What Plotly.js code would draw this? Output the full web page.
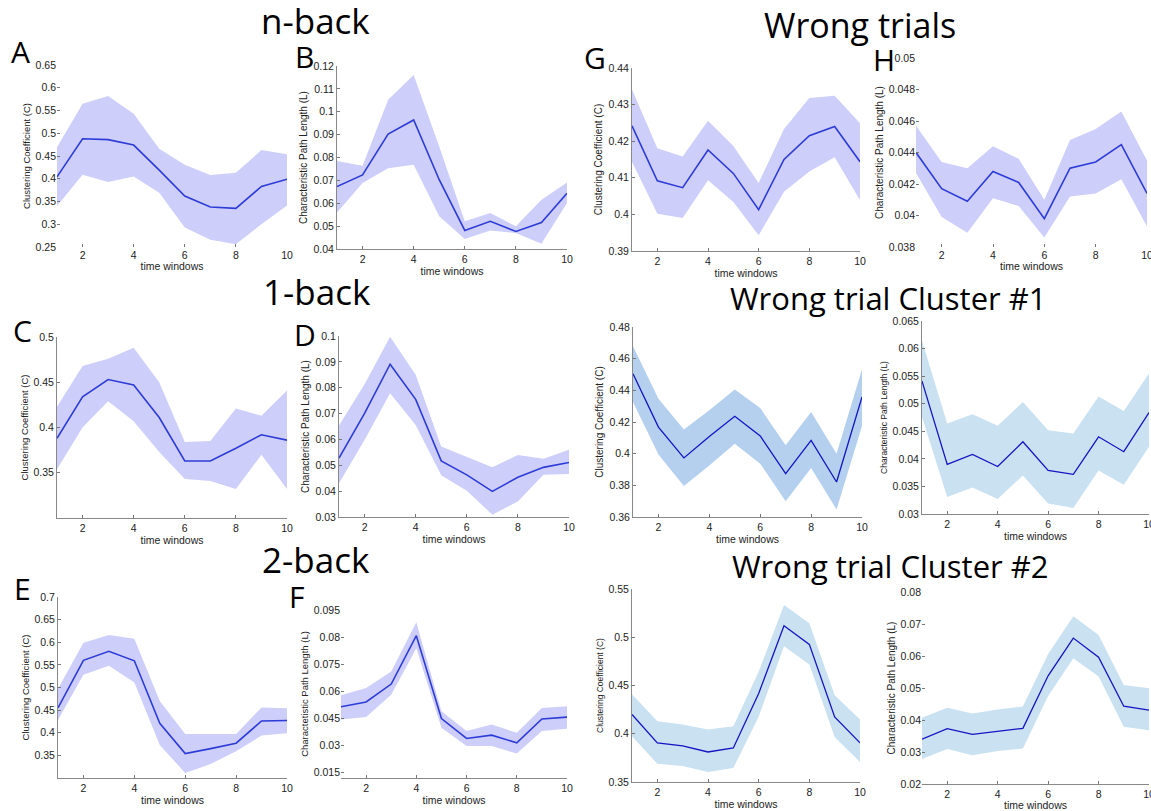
<!DOCTYPE html>
<html><head><meta charset="utf-8">
<script src="https://cdn.plot.ly/plotly-3.0.1.min.js"></script>
<style>html,body{margin:0;padding:0;background:#fff}#chart{width:1151px;height:811px}</style>
</head><body><div id="chart"></div>
<script>
// time windows
const timeWindows = [1,2,3,4,5,6,7,8,9,10];
const xTicks = [2,4,6,8,10];

// A: n-back clustering coefficient
const A_mean  = [0.404,0.488,0.486,0.474,0.419,0.362,0.338,0.335,0.383,0.399];
const A_upper = [0.469,0.565,0.582,0.543,0.466,0.431,0.408,0.413,0.463,0.454];
const A_lower = [0.340,0.409,0.393,0.405,0.369,0.293,0.266,0.256,0.300,0.341];
// B: n-back characteristic path length
const B_mean  = [0.0673,0.0724,0.0902,0.0964,0.0703,0.0481,0.0521,0.0477,0.0516,0.0644];
const B_upper = [0.0785,0.0764,0.1052,0.1161,0.0848,0.0521,0.0557,0.0499,0.0615,0.0691];
const B_lower = [0.0560,0.0688,0.0753,0.0768,0.0543,0.0444,0.0481,0.0470,0.0423,0.0601];
// C: 1-back clustering coefficient
const C_mean  = [0.388,0.434,0.453,0.447,0.411,0.363,0.363,0.377,0.392,0.386];
const C_upper = [0.423,0.468,0.476,0.488,0.450,0.384,0.385,0.421,0.413,0.441];
const C_lower = [0.354,0.400,0.429,0.407,0.373,0.343,0.341,0.332,0.370,0.332];
// D: 1-back characteristic path length
const D_mean  = [0.0528,0.0701,0.0891,0.0755,0.0517,0.0463,0.0399,0.0454,0.0492,0.0511];
const D_upper = [0.0654,0.0813,0.0997,0.0850,0.0573,0.0534,0.0492,0.0540,0.0525,0.0560];
const D_lower = [0.0431,0.0598,0.0779,0.0656,0.0461,0.0402,0.0309,0.0360,0.0463,0.0466];
// E: 2-back clustering coefficient
const E_mean  = [0.455,0.560,0.580,0.559,0.421,0.354,0.365,0.377,0.426,0.427];
const E_upper = [0.497,0.599,0.616,0.608,0.470,0.397,0.397,0.397,0.456,0.454];
const E_lower = [0.428,0.528,0.548,0.511,0.373,0.311,0.331,0.359,0.394,0.399];
// F: 2-back characteristic path length
const F_mean  = [0.0514,0.0541,0.0640,0.0908,0.0449,0.0339,0.0357,0.0315,0.0447,0.0457];
const F_upper = [0.0578,0.0618,0.0710,0.0982,0.0490,0.0380,0.0416,0.0370,0.0508,0.0517];
const F_lower = [0.0444,0.0457,0.0581,0.0838,0.0398,0.0297,0.0297,0.0255,0.0380,0.0392];
// G: wrong trials clustering coefficient
const G_mean  = [0.4242,0.4092,0.4073,0.4176,0.4112,0.4013,0.4150,0.4215,0.4240,0.4144];
const G_upper = [0.4341,0.4181,0.4158,0.4256,0.4187,0.4086,0.4233,0.4318,0.4324,0.4249];
const G_lower = [0.4144,0.4002,0.3990,0.4093,0.4034,0.3943,0.4062,0.4117,0.4156,0.4039];
// H: wrong trials characteristic path length
const H_mean  = [0.0440,0.0417,0.0409,0.0428,0.0421,0.0398,0.0430,0.0434,0.0445,0.0414];
const H_upper = [0.0457,0.0434,0.0430,0.0444,0.0436,0.0410,0.0448,0.0455,0.0466,0.0435];
const H_lower = [0.0427,0.0399,0.0389,0.0411,0.0406,0.0386,0.0412,0.0414,0.0423,0.0393];
// I: wrong trial cluster #1 clustering coefficient
const I_mean  = [0.4505,0.4168,0.3973,0.4109,0.4236,0.4112,0.3874,0.4084,0.3821,0.4358];
const I_upper = [0.4678,0.4347,0.4152,0.4274,0.4406,0.4288,0.4053,0.4263,0.4000,0.4533];
const I_lower = [0.4326,0.3994,0.3796,0.3926,0.4063,0.3937,0.3699,0.3910,0.3648,0.4175];
// J: wrong trial cluster #1 characteristic path length
const J_mean  = [0.0541,0.0390,0.0408,0.0386,0.0431,0.0379,0.0372,0.0440,0.0413,0.0484];
const J_upper = [0.0614,0.0464,0.0481,0.0460,0.0503,0.0452,0.0446,0.0513,0.0487,0.0555];
const J_lower = [0.0476,0.0331,0.0348,0.0327,0.0370,0.0319,0.0311,0.0379,0.0353,0.0422];
// K: wrong trial cluster #2 clustering coefficient
const K_mean  = [0.4199,0.3905,0.3874,0.3811,0.3853,0.4417,0.5119,0.4926,0.4175,0.3905];
const K_upper = [0.4410,0.4130,0.4095,0.4043,0.4078,0.4642,0.5334,0.5144,0.4400,0.4147];
const K_lower = [0.3974,0.3690,0.3666,0.3604,0.3645,0.4175,0.4908,0.4718,0.3967,0.3708];
// L: wrong trial cluster #2 characteristic path length
const L_mean  = [0.0340,0.0373,0.0355,0.0365,0.0374,0.0538,0.0656,0.0596,0.0443,0.0431];
const L_upper = [0.0407,0.0438,0.0420,0.0433,0.0442,0.0606,0.0724,0.0666,0.0509,0.0499];
const L_lower = [0.0278,0.0309,0.0290,0.0303,0.0311,0.0475,0.0593,0.0536,0.0379,0.0368];

// y tick values and labels
const A_ticks = [0.25,0.3,0.35,0.4,0.45,0.5,0.55,0.6,0.65];
const B_ticks = [0.04,0.05,0.06,0.07,0.08,0.09,0.1,0.11,0.12];
const C_ticks = [0.35,0.4,0.45,0.5];
const D_ticks = [0.03,0.04,0.05,0.06,0.07,0.08,0.09,0.1];
const E_ticks = [0.35,0.4,0.45,0.5,0.55,0.6,0.65,0.7];
const F_ticks = [0.015,0.03,0.045,0.06,0.075,0.09,0.105];
const F_tickLabels = ['0.015','0.03','0.045','0.06','0.075','0.08','0.095'];
const G_ticks = [0.39,0.4,0.41,0.42,0.43,0.44];
const H_ticks = [0.038,0.04,0.042,0.044,0.046,0.048,0.05];
const I_ticks = [0.36,0.38,0.4,0.42,0.44,0.46,0.48];
const J_ticks = [0.03,0.035,0.04,0.045,0.05,0.055,0.06,0.065];
const K_ticks = [0.35,0.4,0.45,0.5,0.55];
const L_ticks = [0.02,0.03,0.04,0.05,0.06,0.07,0.08];

const W = 1151, H = 811;
const lav = 'rgb(206,206,250)', lavLine = 'rgb(45,60,215)';
const blueDark = 'rgb(180,208,238)', blueLight = 'rgb(201,225,241)', navy = 'rgb(20,20,195)';

// panel layout: [left,right,top,bottom] in pixels
const panels = [
 {k:'A', mean:A_mean, up:A_upper, lo:A_lower, px:[57,287,65,247], yr:[0.25,0.65], tv:A_ticks, yt:'Clustering Coefficient (C)', fill:lav, line:lavLine, lw:1.6, left:false, bottom:false, tfs:9.5},
 {k:'B', mean:B_mean, up:B_upper, lo:B_lower, px:[337,567,66,249], yr:[0.04,0.12], tv:B_ticks, yt:'Characteristic Path Length (L)', fill:lav, line:lavLine, lw:1.6, left:true, bottom:true, tfs:10},
 {k:'G', mean:G_mean, up:G_upper, lo:G_lower, px:[632,860,68,251], yr:[0.39,0.44], tv:G_ticks, yt:'Clustering Coefficient (C)', fill:lav, line:lavLine, lw:1.6, left:true, bottom:true, tfs:10},
 {k:'H', mean:H_mean, up:H_upper, lo:H_lower, px:[916,1147,58,247], yr:[0.038,0.05], tv:H_ticks, yt:'Characteristic Path Length (L)', fill:lav, line:lavLine, lw:1.6, left:false, bottom:false, tfs:10},
 {k:'C', mean:C_mean, up:C_upper, lo:C_lower, px:[57,287,337,518], yr:[0.3,0.5], tv:C_ticks, yt:'Clustering Coefficient (C)', fill:lav, line:lavLine, lw:1.6, left:true, bottom:true, tfs:9.5},
 {k:'D', mean:D_mean, up:D_upper, lo:D_lower, px:[339,569,336,517], yr:[0.03,0.1], tv:D_ticks, yt:'Characteristic Path Length (L)', fill:lav, line:lavLine, lw:1.6, left:true, bottom:true, tfs:10},
 {k:'I', mean:I_mean, up:I_upper, lo:I_lower, px:[633,862,327,517], yr:[0.36,0.48], tv:I_ticks, yt:'Clustering Coefficient (C)', fill:blueDark, line:navy, lw:1.3, left:true, bottom:true, tfs:10},
 {k:'J', mean:J_mean, up:J_upper, lo:J_lower, px:[922,1149,321,514], yr:[0.03,0.065], tv:J_ticks, yt:'Characteristic Path Length (L)', fill:blueLight, line:navy, lw:1.3, left:true, bottom:true, tfs:8.5},
 {k:'E', mean:E_mean, up:E_upper, lo:E_lower, px:[58,287,597,778], yr:[0.3,0.7], tv:E_ticks, yt:'Clustering Coefficient (C)', fill:lav, line:lavLine, lw:1.6, left:true, bottom:true, tfs:9.5},
 {k:'F', mean:F_mean, up:F_upper, lo:F_lower, px:[341,567,610,778], yr:[0.012,0.105], tv:F_ticks, tt:F_tickLabels, yt:'Charactetistic Path Length (L)', fill:lav, line:lavLine, lw:1.6, left:false, bottom:true, tfs:9.5},
 {k:'K', mean:K_mean, up:K_upper, lo:K_lower, px:[632,860,589,782], yr:[0.35,0.55], tv:K_ticks, yt:'Clustering Coefficient (C)', fill:blueLight, line:navy, lw:1.3, left:true, bottom:true, tfs:8.5},
 {k:'L', mean:L_mean, up:L_upper, lo:L_lower, px:[922,1149,592,784], yr:[0.02,0.08], tv:L_ticks, yt:'Characteristic Path Length (L)', fill:blueLight, line:navy, lw:1.3, left:false, bottom:true, tfs:10}
];

const data = [];
const layout = {
  width: W, height: H, margin:{l:0,r:0,t:0,b:0}, showlegend:false,
  paper_bgcolor:'#fff', plot_bgcolor:'rgba(0,0,0,0)',
  font:{family:'Liberation Sans, Arial, sans-serif', color:'#222', size:10},
  annotations: []
};

panels.forEach((p,i)=>{
  const n = i+1;
  const xa = n===1 ? 'x' : 'x'+n, ya = n===1 ? 'y' : 'y'+n;
  const xk = n===1 ? 'xaxis' : 'xaxis'+n, yk = n===1 ? 'yaxis' : 'yaxis'+n;
  data.push({x:timeWindows, y:p.up, xaxis:xa, yaxis:ya, mode:'lines', line:{width:0, color:p.fill}, hoverinfo:'skip'});
  data.push({x:timeWindows, y:p.lo, xaxis:xa, yaxis:ya, mode:'lines', line:{width:0, color:p.fill}, fill:'tonexty', fillcolor:p.fill, hoverinfo:'skip'});
  data.push({x:timeWindows, y:p.mean, xaxis:xa, yaxis:ya, mode:'lines', line:{width:p.lw, color:p.line}});
  const [l,r,t,b] = p.px;
  layout[xk] = {
    domain:[l/W, r/W], range:[1,10], anchor:ya,
    tickvals:xTicks, ticks:'inside', ticklen:3, tickcolor:'#777',
    ticklabeloverflow:'allow',
    showgrid:false, zeroline:false,
    showline:p.bottom, linecolor:'#888', linewidth:1,
    tickfont:{size:10.5, color:'#222'},
    title:{text:'time windows', standoff:1, font:{size:10.5, color:'#222'}}
  };
  layout[yk] = {
    domain:[1-b/H, 1-t/H], range:p.yr, anchor:xa,
    tickvals:p.tv, ticktext: p.tt ? p.tt : p.tv.map(v=>String(v)),
    ticks:'inside', ticklen:3, tickcolor:'#777',
    ticklabeloverflow:'allow',
    showgrid:false, zeroline:false,
    showline:p.left, linecolor:'#888', linewidth:1,
    tickfont:{size:10.5, color:'#222'},
    title:{text:p.yt, standoff:3, font:{size:p.tfs, color:'#222'}}
  };
});

// panel letters
const letters = [['A',20,52],['B',304,56],['G',595,58],['H',884,60],['C',22,330],['D',305,334],['E',22,588],['F',296,596]];
letters.forEach(([s,x,y])=>layout.annotations.push({text:s, x:x/W, y:1-y/H, xref:'paper', yref:'paper', xanchor:'center', yanchor:'middle', showarrow:false, font:{family:'Open Sans, sans-serif', size:30, color:'#000'}}));
// section titles
const titles = [['n-back',315,21,35],['Wrong trials',860,25,34],['1-back',317,292,35],['Wrong trial Cluster #1',888,298,31],['2-back',316,559,35],['Wrong trial Cluster #2',890,566,31]];
titles.forEach(([s,x,y,fs])=>layout.annotations.push({text:s, x:x/W, y:1-y/H, xref:'paper', yref:'paper', xanchor:'center', yanchor:'middle', showarrow:false, font:{family:'Open Sans, sans-serif', size:fs, color:'#000'}}));

Plotly.newPlot('chart', data, layout, {displayModeBar:false, staticPlot:true});
</script></body></html>
